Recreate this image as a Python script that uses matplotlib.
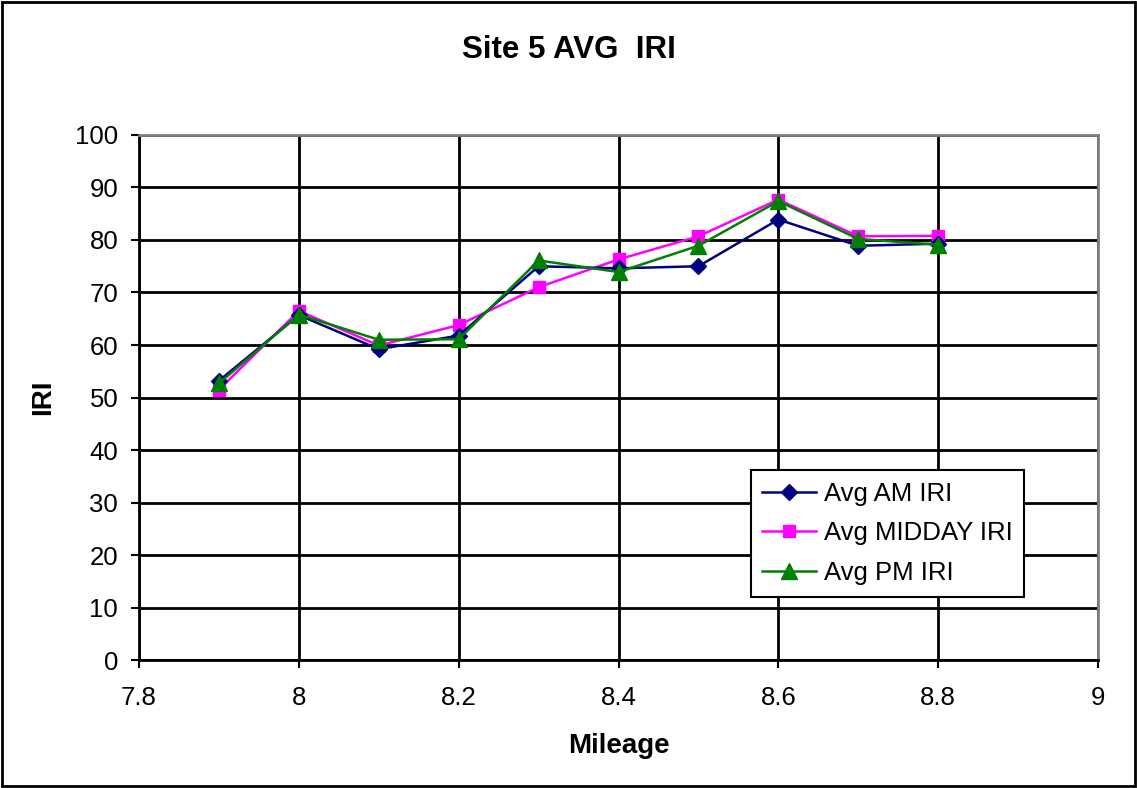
import matplotlib
matplotlib.use("Agg")
import matplotlib.pyplot as plt
from matplotlib.patches import Rectangle

# Data
mileage = [7.9, 8.0, 8.1, 8.2, 8.3, 8.4, 8.5, 8.6, 8.7, 8.8]
am_iri = [53.2, 65.7, 59.2, 61.8, 75.0, 74.6, 75.0, 83.9, 78.9, 79.3]
midday_iri = [51.5, 66.5, 59.9, 63.8, 71.0, 76.3, 80.7, 87.7, 80.7, 80.8]
pm_iri = [52.7, 65.8, 61.0, 61.1, 76.1, 73.9, 78.9, 87.4, 80.2, 79.1]

x_ticks = [7.8, 8.0, 8.2, 8.4, 8.6, 8.8, 9.0]
x_tick_labels = ['7.8', '8', '8.2', '8.4', '8.6', '8.8', '9']
y_ticks = list(range(0, 101, 10))

plt.rcParams['font.family'] = 'Liberation Sans'

fig = plt.figure(figsize=(11.37, 7.88), dpi=100)
ax = fig.add_axes([0.1223, 0.1624, 0.8434, 0.6663])

ax.plot(mileage, am_iri, color='#000080', marker='D', markersize=8, linewidth=1.8,
        label='Avg AM IRI', zorder=5)
ax.plot(mileage, midday_iri, color='#ff00ff', marker='s', markersize=9, linewidth=1.8,
        label='Avg MIDDAY IRI', zorder=4)
ax.plot(mileage, pm_iri, color='#008000', marker='^', markersize=11, linewidth=1.8,
        label='Avg PM IRI', zorder=6)

ax.set_xlim(7.8, 9.0)
ax.set_ylim(0, 100)
ax.set_xticks(x_ticks)
ax.set_xticklabels(x_tick_labels)
ax.set_yticks(y_ticks)
ax.grid(True, color='black', linewidth=2)
ax.set_axisbelow(True)

for side in ['top', 'right']:
    ax.spines[side].set_color('#808080')
    ax.spines[side].set_linewidth(2)
for side in ['left', 'bottom']:
    ax.spines[side].set_color('black')
    ax.spines[side].set_linewidth(2)

ax.tick_params(direction='out', length=6, width=1.5, labelsize=18.5)
ax.tick_params(axis='x', pad=13)
ax.tick_params(axis='y', pad=9)

ax.set_xlabel('Mileage', fontsize=20, fontweight='bold', labelpad=16.5)
ax.set_ylabel('IRI', fontsize=20, fontweight='bold', labelpad=14)
fig.text(0.5005, 0.937, 'Site 5 AVG  IRI', ha='center', va='center',
         fontsize=22.5, fontweight='bold')

leg = ax.legend(loc='upper left', bbox_to_anchor=(0.638, 0.362), fontsize=18.5,
                frameon=True, fancybox=False, borderpad=0.45, labelspacing=0.62,
                handlelength=2.1, handletextpad=0.28, borderaxespad=0)
leg.get_frame().set_edgecolor('black')
leg.get_frame().set_linewidth(1.5)
leg.get_frame().set_alpha(1)

# outer chart border
fig.patches.append(Rectangle((0.002, 0.002), 0.996, 0.996, transform=fig.transFigure,
                             fill=False, edgecolor='black', linewidth=2))

fig.savefig('out.png', dpi=100, facecolor='white')
